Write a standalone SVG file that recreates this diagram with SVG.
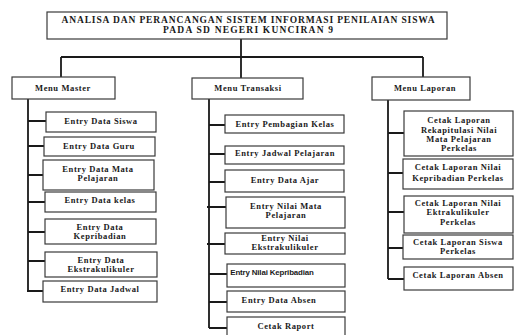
<svg xmlns="http://www.w3.org/2000/svg" width="515" height="335" viewBox="0 0 515 335">
  <style>
    .box { fill: #ffffff; stroke: #3a3a3a; stroke-width: 1.2; }
    .lbl { font-family: "Liberation Serif", "Times New Roman", serif; font-weight: bold; font-size: 8.5px; letter-spacing: 0.6px; fill: #1a1a1a; text-anchor: middle; }
    .ttl { font-family: "Liberation Serif", "Times New Roman", serif; font-weight: bold; font-size: 9.5px; fill: #1a1a1a; text-anchor: middle; }
    .sans { font-family: "Liberation Sans", Arial, sans-serif; font-weight: bold; font-size: 7.9px; letter-spacing: -0.15px; fill: #1a1a1a; text-anchor: middle; }
    .wire { fill: none; stroke: #1a1a1a; stroke-width: 1.8; }
  </style>
  <rect width="515" height="335" fill="#ffffff"/>

  <!-- connectors -->
  <g id="connectors" class="wire">
    <path d="M241 39 V57 M61 57 H423 M61 57 V77 M241 57 V78 M423 57 V77"/>
    <!-- Menu Master branch -->
    <path d="M28 99 V291 M28 121 H46 M28 146 H44 M28 175 H43 M28 202 H45 M28 232 H45 M28 261 H45 M27 291 H43"/>
    <!-- Menu Transaksi branch -->
    <path d="M209 99 V328 M209 125 H225 M209 154 H225 M209 182 H225 M207 207 H226 M207 244 H225 M209 274 H227 M209 302 H227 M209 328 H227"/>
    <!-- Menu Laporan branch -->
    <path d="M388 100 V279 M388 133 H404 M388 173 H403 M388 212 H404 M388 248 H403 M388 279 H404"/>
  </g>

  <!-- top -->
  <g id="root">
    <rect class="box" x="47" y="12" width="400" height="27"/>
    <text class="ttl" x="248" y="23" textLength="373" lengthAdjust="spacing">ANALISA DAN PERANCANGAN SISTEM INFORMASI PENILAIAN SISWA</text>
    <text class="ttl" x="248" y="33" textLength="170" lengthAdjust="spacing">PADA SD NEGERI KUNCIRAN 9</text>
  </g>

  <!-- menus -->
  <g id="menu-master">
    <rect class="box" x="12" y="77" width="103" height="22"/>
    <text class="lbl" x="63" y="91">Menu Master</text>
  </g>
  <g id="menu-transaksi">
    <rect class="box" x="192" y="78" width="111" height="21"/>
    <text class="lbl" x="248" y="91">Menu Transaksi</text>
  </g>
  <g id="menu-laporan">
    <rect class="box" x="372" y="77" width="98" height="23"/>
    <text class="lbl" x="425" y="91">Menu Laporan</text>
  </g>

  <!-- master items -->
  <g id="entry-siswa">
    <rect class="box" x="46" y="112" width="110" height="20"/>
    <text class="lbl" x="101" y="124">Entry Data Siswa</text>
  </g>
  <g id="entry-guru">
    <rect class="box" x="44" y="137" width="111" height="19"/>
    <text class="lbl" x="99" y="149">Entry Data Guru</text>
  </g>
  <g id="entry-mapel">
    <rect class="box" x="43" y="160" width="111" height="30"/>
    <text class="lbl" x="98" y="172">Entry Data Mata</text>
    <text class="lbl" x="98" y="181">Pelajaran</text>
  </g>
  <g id="entry-kelas">
    <rect class="box" x="45" y="192" width="111" height="20"/>
    <text class="lbl" x="100" y="203">Entry Data kelas</text>
  </g>
  <g id="entry-kepribadian">
    <rect class="box" x="45" y="219" width="111" height="25"/>
    <text class="lbl" x="100" y="230">Entry Data</text>
    <text class="lbl" x="100" y="239">Kepribadian</text>
  </g>
  <g id="entry-ekskul">
    <rect class="box" x="45" y="252" width="112" height="25"/>
    <text class="lbl" x="101" y="263">Entry Data</text>
    <text class="lbl" x="101" y="272">Ekstrakulikuler</text>
  </g>
  <g id="entry-jadwal">
    <rect class="box" x="43" y="281" width="114" height="21"/>
    <text class="lbl" x="100" y="292">Entry Data Jadwal</text>
  </g>

  <!-- transaksi items -->
  <g id="entry-pembagian">
    <rect class="box" x="225" y="115" width="119" height="18"/>
    <text class="lbl" x="285" y="127">Entry Pembagian Kelas</text>
  </g>
  <g id="entry-jadwal-pelajaran">
    <rect class="box" x="225" y="146" width="119" height="18"/>
    <text class="lbl" x="285" y="156">Entry Jadwal Pelajaran</text>
  </g>
  <g id="entry-ajar">
    <rect class="box" x="225" y="170" width="119" height="22"/>
    <text class="lbl" x="285" y="183">Entry Data Ajar</text>
  </g>
  <g id="entry-nilai-mapel">
    <rect class="box" x="226" y="197" width="119" height="31"/>
    <text class="lbl" x="286" y="209">Entry Nilai Mata</text>
    <text class="lbl" x="286" y="218">Pelajaran</text>
  </g>
  <g id="entry-nilai-ekskul">
    <rect class="box" x="225" y="233" width="120" height="21"/>
    <text class="lbl" x="285" y="241">Entry Nilai</text>
    <text class="lbl" x="285" y="250">Ekstrakulikuler</text>
  </g>
  <g id="entry-nilai-kepribadian">
    <rect class="box" x="227" y="264" width="118" height="23"/>
    <text class="sans" x="272" y="275">Entry Nilai Kepribadian</text>
  </g>
  <g id="entry-absen">
    <rect class="box" x="227" y="291" width="118" height="21"/>
    <text class="lbl" x="279" y="303">Entry Data Absen</text>
  </g>
  <g id="cetak-raport">
    <rect class="box" x="227" y="317" width="118" height="25"/>
    <text class="lbl" x="286" y="329">Cetak Raport</text>
  </g>

  <!-- laporan items -->
  <g id="lap-rekap">
    <rect class="box" x="404" y="111" width="109" height="45"/>
    <text class="lbl" x="459" y="123">Cetak Laporan</text>
    <text class="lbl" x="459" y="133">Rekapitulasi Nilai</text>
    <text class="lbl" x="459" y="142">Mata Pelajaran</text>
    <text class="lbl" x="459" y="151">Perkelas</text>
  </g>
  <g id="lap-kepribadian">
    <rect class="box" x="403" y="159" width="110" height="30"/>
    <text class="lbl" x="458" y="170">Cetak Laporan Nilai</text>
    <text class="lbl" x="458" y="181">Kepribadian Perkelas</text>
  </g>
  <g id="lap-ekskul">
    <rect class="box" x="404" y="196" width="109" height="37"/>
    <text class="lbl" x="458" y="206">Cetak Laporan Nilai</text>
    <text class="lbl" x="458" y="215">Ektrakulikuler</text>
    <text class="lbl" x="458" y="225">Perkelas</text>
  </g>
  <g id="lap-siswa">
    <rect class="box" x="403" y="235" width="110" height="24"/>
    <text class="lbl" x="458" y="245">Cetak Laporan Siswa</text>
    <text class="lbl" x="458" y="254">Perkelas</text>
  </g>
  <g id="lap-absen">
    <rect class="box" x="404" y="267" width="109" height="23"/>
    <text class="lbl" x="458" y="278">Cetak Laporan Absen</text>
  </g>
</svg>
